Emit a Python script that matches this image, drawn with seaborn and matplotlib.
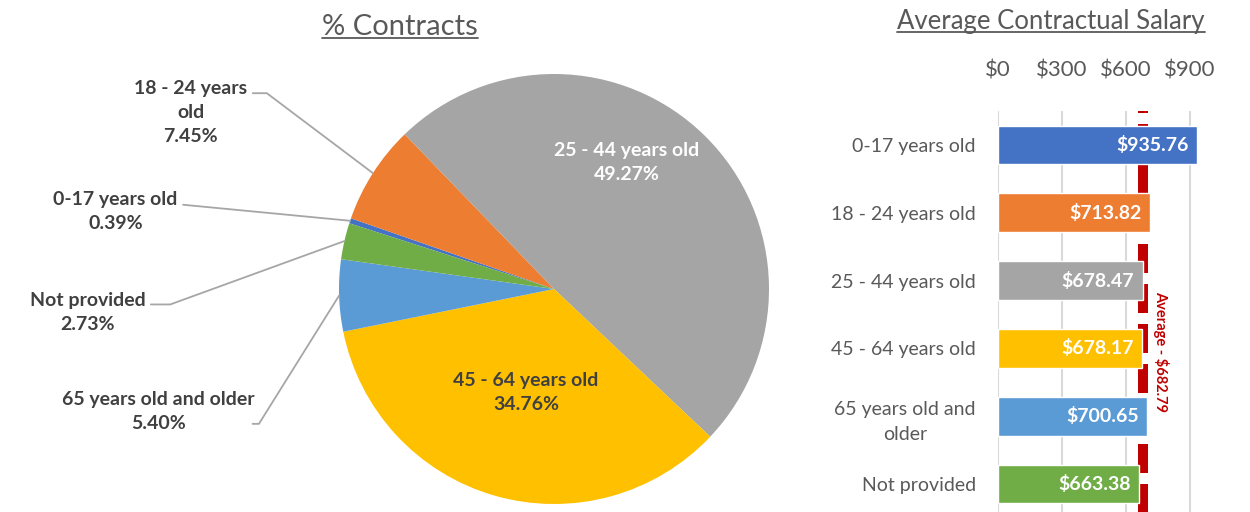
import matplotlib
matplotlib.use("Agg")
import matplotlib.pyplot as plt
from matplotlib.lines import Line2D
import numpy as np
import pandas as pd
import seaborn as sns

# data
age_groups = ["0-17 years old", "18 - 24 years old", "25 - 44 years old",
              "45 - 64 years old", "65 years old and older", "Not provided"]
pie_texts = ["0-17 years old\n0.39%", "18 - 24 years\nold\n7.45%",
             "25 - 44 years old\n49.27%", "45 - 64 years old\n34.76%",
             "65 years old and older\n5.40%", "Not provided\n2.73%"]
bar_names = ["0-17 years old", "18 - 24 years old", "25 - 44 years old",
             "45 - 64 years old", "65 years old and\nolder", "Not provided"]
pct_contracts = [0.39, 7.45, 49.27, 34.76, 5.40, 2.73]
avg_salary = [935.76, 713.82, 678.47, 678.17, 700.65, 663.38]
overall_avg = 682.79
salary_ticks = [0, 300, 600, 900]
colors = ["#4472C4", "#ED7D31", "#A5A5A5", "#FFC000", "#5B9BD5", "#70AD47"]

GREY = "#595959"
DARK = "#404040"
FONT = ["Lato", "DejaVu Sans"]

sns.set_style("white")
plt.rcParams["font.family"] = FONT

fig = plt.figure(figsize=(12.5, 5.12), dpi=100)


def underlined_title(x, y, text, size):
    t = fig.text(x, y, text, ha="center", va="center", fontsize=size, color=GREY)
    fig.canvas.draw()
    bb = t.get_window_extent().transformed(fig.transFigure.inverted())
    fig.add_artist(Line2D([bb.x0, bb.x1], [bb.y0 + 0.004] * 2,
                          transform=fig.transFigure, color=GREY, lw=1.3))


# ---- pie: % contracts ----
ax_pie = fig.add_axes([339 / 1250, 8 / 512, 430 / 1250, 430 / 512])
wedges, _ = ax_pie.pie(pct_contracts, colors=colors, startangle=162.2,
                       counterclock=False, radius=1,
                       wedgeprops=dict(linewidth=0))
ax_pie.set_xlim(-1, 1)
ax_pie.set_ylim(-1, 1)
ax_pie.set_aspect("equal")

# label placement (layout only): text pos, leader relpos, leader style
label_pos = [(-2.04, 0.36), (-1.69, 0.82), (0.34, 0.59),
             (-0.13, -0.48), (-1.84, -0.57), (-2.17, -0.11)]
leader = [((1.0, 0.68), "arc3,rad=0"),
          ((1.0, 0.8), "angle,angleA=0,angleB=-37,rad=0"), None, None,
          ((0.96, 0.2), "angle,angleA=0,angleB=58,rad=0"),
          ((1.0, 0.7), "angle,angleA=0,angleB=20,rad=0")]
text_col = [DARK, DARK, "white", DARK, DARK, DARK]

for w, txt, pos, ld, col in zip(wedges, pie_texts, label_pos, leader, text_col):
    mid = np.deg2rad((w.theta1 + w.theta2) / 2)
    edge = (np.cos(mid), np.sin(mid))
    if ld is None:
        ax_pie.text(pos[0], pos[1], txt, ha="center", va="center",
                    multialignment="center", fontsize=14, fontweight="bold",
                    color=col, linespacing=1.5)
    else:
        relpos, style = ld
        ax_pie.annotate(txt, xy=edge, xytext=pos, ha="center", va="center",
                        multialignment="center", fontsize=14,
                        fontweight="bold", color=col, linespacing=1.5,
                        annotation_clip=False,
                        arrowprops=dict(arrowstyle="-", color="#A6A6A6", lw=1.3,
                                        relpos=relpos, shrinkA=4, shrinkB=0,
                                        patchA=None, connectionstyle=style))

# ---- bars: average contractual salary ----
df = pd.DataFrame({"group": bar_names, "salary": avg_salary})
ax_bar = fig.add_axes([998 / 1250, -6 / 512, 213 / 1250, 407 / 512])
sns.barplot(data=df, x="salary", y="group", hue="group", palette=colors,
            legend=False, width=0.57, saturation=1, ax=ax_bar, zorder=3)
ax_bar.axvline(overall_avg, color="#C00000", lw=7.2, dashes=(2.9, 1.1), zorder=2)
ax_bar.set_xlim(0, 1000)
ax_bar.set_xticks(salary_ticks)
ax_bar.set_xticklabels([f"${t}" for t in salary_ticks])
ax_bar.xaxis.tick_top()
ax_bar.tick_params(axis="x", length=0, pad=22, labelsize=16, labelcolor=GREY)
ax_bar.tick_params(axis="y", length=0, pad=16, labelsize=14, labelcolor=GREY)
for lab in ax_bar.get_yticklabels():
    lab.set_multialignment("center")
    lab.set_linespacing(1.6)
ax_bar.set_xlabel("")
ax_bar.set_ylabel("")
ax_bar.grid(axis="x", color="#D9D9D9", lw=1.5, zorder=0)
ax_bar.set_axisbelow(True)
for s in ax_bar.spines.values():
    s.set_visible(False)

for i, v in enumerate(avg_salary):
    ax_bar.annotate(f"${v:,.2f}", xy=(v, i), xytext=(-6, 0),
                    textcoords="offset points", ha="right", va="center",
                    fontsize=14, fontweight="bold", color="white", zorder=4)

ax_bar.annotate(f"Average - ${overall_avg:,.2f}", xy=(overall_avg, 3.05),
                xytext=(13, 0), textcoords="offset points", rotation=270,
                ha="center", va="center", fontsize=10.5, fontweight="bold",
                color="#C00000")

underlined_title(400 / 1250, 1 - 27 / 512, "% Contracts", 21)
underlined_title(1051 / 1250, 1 - 22 / 512, "Average Contractual Salary", 18.5)

fig.savefig("out.png", dpi=100)
